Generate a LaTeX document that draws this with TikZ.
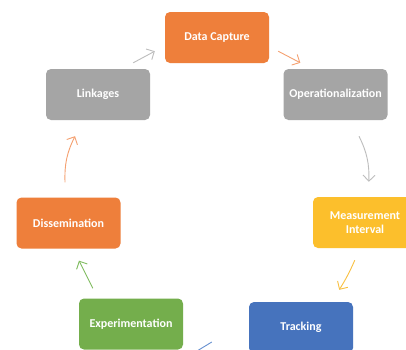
\documentclass[tikz,border=0pt]{standalone}
\usepackage{fontspec}
\setmainfont{Carlito}
\usetikzlibrary{arrows.meta}
\definecolor{cOrange}{HTML}{EE7F3B}
\definecolor{cGray}{HTML}{A5A5A5}
\definecolor{cYellow}{HTML}{FCBF2C}
\definecolor{cBlue}{HTML}{4673BD}
\definecolor{cGreen}{HTML}{74AE4C}
\definecolor{aOrange}{HTML}{F5A070}
\definecolor{aGray}{HTML}{BDBDBD}
\definecolor{aYellow}{HTML}{F9C040}
\definecolor{aGreen}{HTML}{80BC60}
\definecolor{aBlue}{HTML}{6690D0}
\tikzset{
  stage/.style={rounded corners=5pt, minimum width=104pt, minimum height=51pt,
    inner sep=0pt, text=white, font=\fontsize{12}{14}\selectfont\bfseries,
    align=center},
  flow/.style={line width=0.9pt, -{Straight Barb[length=6pt,width=12pt]}},
}
\begin{document}
\begin{tikzpicture}[x=1pt,y=-1pt]
\useasboundingbox (0,0) rectangle (406,349);
\fill[white] (0,0) rectangle (406,349);
\begin{scope}
\clip (0,0) rectangle (406,349);
% cycle stages
\node[stage, fill=cOrange] (dc) at (217,37.5) {Data Capture};
\node[stage, fill=cGray]   (op) at (335.5,94.5) {Operationalization};
\node[stage, fill=cYellow] (mi) at (365,222.5) {Measurement\\Interval};
\node[stage, fill=cBlue]   (tr) at (301,327.5) {Tracking};
\node[stage, fill=cGreen]  (ex) at (131,324) {Experimentation};
\node[stage, fill=cOrange] (ds) at (68.5,223) {Dissemination};
\node[stage, fill=cGray]   (lk) at (98,94.5) {Linkages};
% connectors between stages
\draw[flow, aGray]   ([shift={(-17,-6)}]lk.north east) -- ([shift={(-10,-12)}]dc.south west);
\draw[flow, aOrange] ([shift={(9,-12)}]dc.south east) -- ([shift={(17,-6)}]op.north west);
\draw[flow, aGray]   ([shift={(23.5,16)}]op.south) to[bend left=14] ([shift={(56,-15)}]mi.north west);
\draw[flow, aYellow] ([shift={(42,12)}]mi.south west) to[bend left=4] ([shift={(-14,-12)}]tr.north east);
\draw[flow, aBlue]   ([shift={(-37,14.5)}]tr.west) -- ([shift={(-3,11.5)}]ex.south east);
\draw[flow, aGreen]  ([shift={(14,-10)}]ex.north west) -- ([shift={(10.5,12)}]ds.south);
\draw[flow, aOrange] ([shift={(-3.5,-15)}]ds.north) to[bend left=14] ([shift={(-23,16)}]lk.south);
\end{scope}
\end{tikzpicture}
\end{document}
